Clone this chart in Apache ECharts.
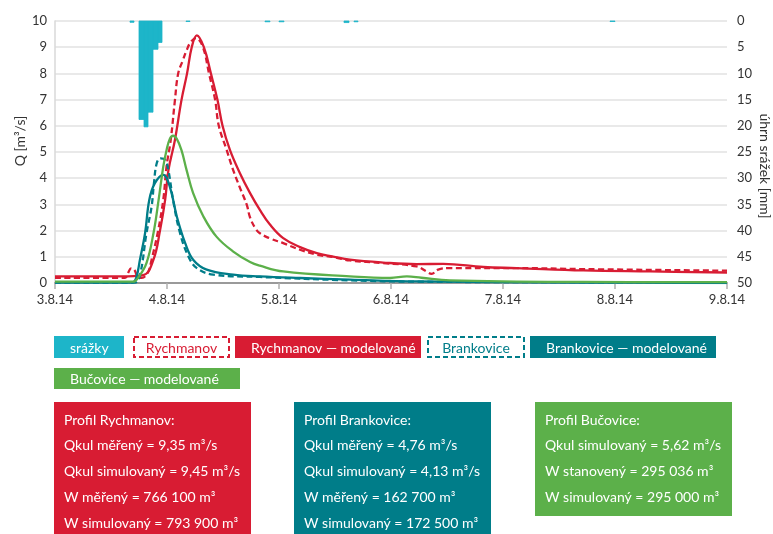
<!DOCTYPE html>
<html>
<head>
<meta charset="utf-8">
<script src="https://cdn.jsdelivr.net/npm/echarts@6/dist/echarts.min.js"></script>
<style>
html,body{margin:0;padding:0;background:#fff}
#chart{width:773px;height:534px}
</style>
</head>
<body>
<div id="chart"></div>
<script>
// Hydrograph of the 4.8.2014 flood event – measured vs. modelled discharge
// x values are hours since 3.8.2014 00:00

const dayLabels = ['3.8.14', '4.8.14', '5.8.14', '6.8.14', '7.8.14', '8.8.14', '9.8.14'];

// Rychmanov – measured discharge [h, m3/s]
const rychmanovMeasured = [
  [0, 0.2], [15, 0.2], [15.7, 0.4], [16.3, 0.56], [17, 0.5], [17.7, 0.25], [18.6, 0.2],
  [19.9, 0.4], [20.7, 0.89], [22.1, 2.0], [23.2, 3.17], [23.9, 4.44], [24.8, 5.46],
  [25.7, 6.98], [26.4, 8.0], [27.4, 8.5], [28.2, 8.88], [29.1, 9.2], [30.2, 9.35],
  [31.7, 9.0], [33.0, 8.0], [34.3, 7.0], [35.1, 6.0], [36.8, 5.07], [38.2, 4.3],
  [39.6, 3.65], [41.1, 2.98], [41.8, 2.5], [42.9, 2.1], [43.9, 1.9], [46.1, 1.7],
  [48.9, 1.52], [52.5, 1.27], [56.1, 1.08], [59.6, 0.99], [63.2, 0.86], [70.3, 0.76],
  [77.5, 0.63], [79.6, 0.44], [80.7, 0.35], [82.1, 0.51], [84.6, 0.57], [98.9, 0.57],
  [113.2, 0.53], [144, 0.47]
];

// Rychmanov – modelled discharge
const rychmanovModel = [
  [0, 0.25], [14, 0.25], [18.9, 0.3], [21.1, 0.89], [22.5, 2.0], [23.6, 3.17], [24.3, 4.3],
  [25.7, 5.46], [27.1, 6.98], [28.3, 8.0], [29.3, 9.0], [30.4, 9.45], [31.9, 9.0],
  [33.4, 8.0], [34.8, 7.0], [35.9, 6.0], [37.5, 5.07], [39.6, 4.2], [41.8, 3.43],
  [43.9, 2.79], [46.1, 2.22], [48.9, 1.71], [52.5, 1.37], [56.1, 1.14], [59.6, 1.01],
  [63.2, 0.89], [70.3, 0.78], [77.5, 0.72], [83.2, 0.73], [91.8, 0.61], [98.9, 0.57],
  [113.2, 0.48], [127.5, 0.44], [144, 0.4]
];

// Brankovice – measured discharge
const brankoviceMeasured = [
  [0, 0.02], [17.1, 0.02], [18.2, 0.3], [19.6, 1.9], [20.7, 2.92], [21.2, 3.8],
  [21.8, 4.57], [22.6, 4.76], [23.6, 4.7], [24.3, 4.3], [25.3, 3.17], [26.8, 1.9],
  [28.6, 1.01], [30.4, 0.57], [33.9, 0.32], [43.9, 0.23], [63.2, 0.1], [77.5, 0.05],
  [113.2, 0.03], [144, 0.02]
];

// Brankovice – modelled discharge
const brankoviceModel = [
  [0, 0.02], [16.5, 0.02], [17.4, 0.2], [18.2, 0.89], [19.3, 1.9], [20.2, 3.17],
  [21.4, 3.81], [23.2, 4.13], [24.6, 3.68], [26.1, 2.54], [27.9, 1.52], [29.6, 0.89],
  [32.5, 0.51], [38.2, 0.32], [43.9, 0.25], [52.5, 0.19], [63.2, 0.13], [77.5, 0.06],
  [113.2, 0.02], [144, 0.0]
];

// Bučovice – modelled discharge
const bucoviceModel = [
  [0, 0.05], [16.7, 0.05], [17.8, 0.2], [19.6, 0.76], [21.1, 1.9], [22.2, 3.17],
  [23.2, 4.44], [23.9, 5.07], [24.6, 5.5], [25.3, 5.62], [26.1, 5.5], [27.1, 5.07],
  [28.2, 4.31], [29.6, 3.43], [31.8, 2.54], [34.6, 1.77], [38.2, 1.2], [41.8, 0.8],
  [43.9, 0.66], [48.9, 0.44], [63.2, 0.25], [71.8, 0.19], [75.4, 0.25], [78.5, 0.2],
  [84.6, 0.1], [113.2, 0.04], [144, 0.03]
];

// Hourly precipitation totals: start hour and mm
const rainHours = [16, 18, 19, 20, 21, 22, 28, 45, 48, 62, 64, 119];
const rainMm    = [0.25, 18.8, 20.2, 17.4, 5.4, 4.1, 0.1, 0.15, 0.15, 0.3, 0.15, 0.1];

const RED = '#d81c33';
const TEAL = '#007d89';
const GREEN = '#5cb04a';
const CYAN = '#1db5c9';
const FONT = 'Lato, "Open Sans", sans-serif';

const summaryRychmanov = ['Profil Rychmanov:', 'Qkul měřený = 9,35 m³/s', 'Qkul simulovaný = 9,45 m³/s', 'W měřený = 766 100 m³', 'W simulovaný = 793 900 m³'];
const summaryBrankovice = ['Profil Brankovice:', 'Qkul měřený = 4,76 m³/s', 'Qkul simulovaný = 4,13 m³/s', 'W měřený = 162 700 m³', 'W simulovaný = 172 500 m³'];
const summaryBucovice = ['Profil Bučovice:', 'Qkul simulovaný = 5,62 m³/s', 'W stanovený = 295 036 m³', 'W simulovaný = 295 000 m³'];

const rainData = rainHours.map((h, i) => [h, rainMm[i]]);

function lineSeries(name, data, color, dashed) {
  return {
    name, type: 'line', data, xAxisIndex: 0, yAxisIndex: 0,
    showSymbol: false, smooth: 0.4,
    lineStyle: { color, width: 2.3, type: dashed ? [6, 3.5] : 'solid', cap: 'butt', join: 'round' },
    itemStyle: { color },
    z: 3
  };
}

// Legend chips and summary panels are drawn as graphic elements
function chip(x, y, w, h, label, color, outlined, textX) {
  const children = [];
  if (outlined) {
    children.push({ type: 'rect', shape: { x: x + 1, y: y + 1, width: w - 2, height: h - 2 },
      style: { fill: '#fff', stroke: color, lineWidth: 2, lineDash: [5, 3] } });
  } else {
    children.push({ type: 'rect', shape: { x, y, width: w, height: h }, style: { fill: color } });
  }
  children.push({ type: 'text', x: textX != null ? textX : x + w / 2, y: y + h / 2 + 1,
    style: { text: label, fill: outlined ? color : '#fff', font: '14px ' + FONT,
      align: textX != null ? 'left' : 'center', verticalAlign: 'middle' } });
  return { type: 'group', children };
}

function panel(x, y, w, h, color, lines) {
  const children = [{ type: 'rect', shape: { x, y, width: w, height: h }, style: { fill: color } }];
  lines.forEach((t, i) => {
    children.push({ type: 'text', x: x + 10, y: y + 18 + i * 25.8,
      style: { text: t, fill: '#fff', font: '14px ' + FONT, verticalAlign: 'middle' } });
  });
  return { type: 'group', children };
}

const chart = echarts.init(document.getElementById('chart'), null, { renderer: 'canvas' });

chart.setOption({
  animation: false,
  backgroundColor: '#fff',
  grid: { left: 55, top: 21, width: 672, height: 262, containLabel: false },
  xAxis: {
    type: 'value', min: 0, max: 144, interval: 24,
    axisLine: { lineStyle: { color: '#9a9a9a', width: 2 } },
    axisTick: { show: true, length: 6, lineStyle: { color: '#b0b0b0', width: 1.5 } },
    axisLabel: { color: '#333', fontSize: 13, fontFamily: FONT, margin: 10,
      formatter: v => dayLabels[Math.round(v / 24)] },
    splitLine: { show: false }
  },
  yAxis: [
    {
      type: 'value', min: 0, max: 10, interval: 1,
      axisLine: { show: true, lineStyle: { color: '#d8d8d8', width: 1.5 } },
      axisTick: { show: false },
      axisLabel: { color: '#333', fontSize: 13, fontFamily: FONT, margin: 8 },
      splitLine: { lineStyle: { color: '#e2e2e2', width: 1.5 } }
    },
    {
      type: 'value', min: 0, max: 50, interval: 5, inverse: true, position: 'right',
      axisLine: { show: false }, axisTick: { show: false },
      axisLabel: { color: '#333', fontSize: 13, fontFamily: FONT, margin: 10 },
      splitLine: { show: false }
    }
  ],
  series: [
    {
      name: 'srážky', type: 'custom', xAxisIndex: 0, yAxisIndex: 1,
      coordinateSystem: 'cartesian2d', data: rainData, encode: { x: 0, y: 1 }, z: 2,
      renderItem(params, api) {
        const h = api.value(0), v = api.value(1);
        const a = api.coord([h, 0]);
        const b = api.coord([h + 1, v]);
        const x0 = Math.round(a[0]), x1 = Math.round(b[0]);
        return { type: 'rect', shape: { x: x0, y: a[1], width: x1 - x0, height: b[1] - a[1] },
          style: { fill: CYAN, stroke: CYAN, lineWidth: 0.8 } };
      }
    },
    lineSeries('Rychmanov', rychmanovMeasured, RED, true),
    lineSeries('Rychmanov – modelované', rychmanovModel, RED, false),
    lineSeries('Brankovice', brankoviceMeasured, TEAL, true),
    lineSeries('Brankovice – modelované', brankoviceModel, TEAL, false),
    lineSeries('Bučovice – modelované', bucoviceModel, GREEN, false)
  ],
  graphic: [
    { type: 'text', x: 20, y: 141, rotation: Math.PI / 2,
      style: { text: 'Q [m³/s]', fill: '#333', font: '14px ' + FONT, align: 'center', verticalAlign: 'middle' } },
    { type: 'text', x: 765, y: 166, rotation: -Math.PI / 2,
      style: { text: 'úhrn srážek [mm]', fill: '#333', font: '14px ' + FONT, align: 'center', verticalAlign: 'middle' } },
    chip(54, 336, 70, 22, 'srážky', CYAN, false, 70),
    chip(133, 336, 97, 22, 'Rychmanov', RED, true),
    chip(235, 336, 186, 22, 'Rychmanov — modelované', RED, false, 251),
    chip(427, 336, 98, 22, 'Brankovice', TEAL, true),
    chip(530, 336, 186, 22, 'Brankovice — modelované', TEAL, false, 546),
    chip(54, 368, 186, 21, 'Bučovice — modelované', GREEN, false, 70),
    panel(54, 402, 197, 132, RED, summaryRychmanov),
    panel(294, 402, 197, 132, TEAL, summaryBrankovice),
    panel(535, 402, 197, 114, GREEN, summaryBucovice)
  ]
});
</script>
</body>
</html>
